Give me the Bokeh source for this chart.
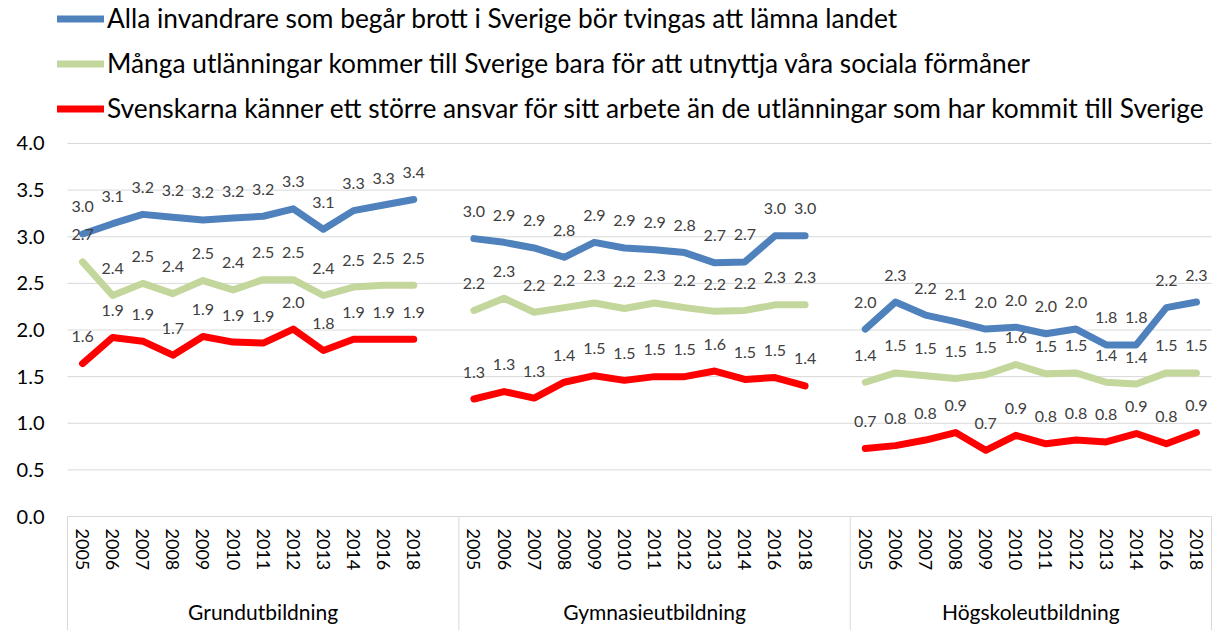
from bokeh.plotting import figure
from bokeh.models import (FactorRange, Range1d, Legend, LegendItem, FixedTicker,
                          PrintfTickFormatter, ColumnDataSource, CategoricalAxis)
from bokeh.embed import file_html
from bokeh.resources import INLINE
from bokeh.core.properties import value

FONT = "Lato"

groups = ["Grundutbildning", "Gymnasieutbildning", "Högskoleutbildning"]
years = ["2005", "2006", "2007", "2008", "2009", "2010", "2011", "2012",
         "2013", "2014", "2016", "2018"]
y_ticks = [0.0, 0.5, 1.0, 1.5, 2.0, 2.5, 3.0, 3.5, 4.0]

series_names = [
    "Alla invandrare som begår brott i Sverige bör tvingas att lämna landet",
    "Många utlänningar kommer till Sverige bara för att utnyttja våra sociala förmåner",
    "Svenskarna känner ett större ansvar för sitt arbete än de utlänningar som har kommit till Sverige",
]
series_colors = ["#4F81BD", "#C3D69B", "#FF0000"]

brott_grund = [3.03, 3.14, 3.24, 3.21, 3.18, 3.20, 3.22, 3.30, 3.08, 3.28, 3.34, 3.40]
brott_gymn = [2.98, 2.94, 2.88, 2.78, 2.94, 2.88, 2.86, 2.83, 2.72, 2.73, 3.01, 3.01]
brott_hogsk = [2.01, 2.30, 2.16, 2.09, 2.01, 2.03, 1.96, 2.01, 1.84, 1.84, 2.24, 2.30]

formaner_grund = [2.73, 2.37, 2.50, 2.39, 2.53, 2.43, 2.54, 2.54, 2.37, 2.46, 2.48, 2.48]
formaner_gymn = [2.21, 2.34, 2.19, 2.24, 2.29, 2.23, 2.29, 2.24, 2.20, 2.21, 2.27, 2.27]
formaner_hogsk = [1.44, 1.54, 1.51, 1.48, 1.52, 1.63, 1.53, 1.54, 1.44, 1.42, 1.54, 1.54]

ansvar_grund = [1.64, 1.92, 1.88, 1.73, 1.93, 1.87, 1.86, 2.01, 1.78, 1.90, 1.90, 1.90]
ansvar_gymn = [1.26, 1.34, 1.27, 1.44, 1.51, 1.46, 1.50, 1.50, 1.56, 1.47, 1.49, 1.40]
ansvar_hogsk = [0.73, 0.76, 0.82, 0.90, 0.71, 0.87, 0.78, 0.82, 0.80, 0.89, 0.78, 0.90]

series_values = [
    [brott_grund, brott_gymn, brott_hogsk],
    [formaner_grund, formaner_gymn, formaner_hogsk],
    [ansvar_grund, ansvar_gymn, ansvar_hogsk],
]

# one blank slot after the first two groups, like the Excel source
factors = []
for i, g in enumerate(groups):
    factors += [(g, y) for y in years]
    if i < len(groups) - 1:
        factors.append((g, ""))

n_slot = len(years) + 1
total_slots = len(factors)
box_lines = [i * n_slot for i in range(len(groups))] + [total_slots]

# layout constants: the frame covers legend, plot and category box
X_PAD = 0.332          # slots of padding on each side of the categories
Y_BOTTOM = -1.2225     # room for the category box below 0
Y_TOP = 5.5335         # room for the legend above 4.0

p = figure(width=1221, height=640,
           x_range=FactorRange(factors=factors, group_padding=0, factor_padding=0,
                               range_padding=X_PAD, range_padding_units="absolute"),
           y_range=Range1d(Y_BOTTOM, Y_TOP),
           output_backend="svg", toolbar_location=None,
           min_border_left=57, min_border_right=0,
           min_border_top=0, min_border_bottom=10)
p.outline_line_color = None
p.background_fill_color = "white"
p.border_fill_color = "white"
p.xgrid.grid_line_color = None
p.ygrid.grid_line_color = None

# horizontal gridlines over the category span only
p.segment(x0=[0] * len(y_ticks), y0=y_ticks, x1=[total_slots] * len(y_ticks),
          y1=y_ticks, line_color="#D9D9D9", line_width=1)
# category box lines (left edge, group separators, right edge)
p.segment(x0=box_lines, y0=[0] * len(box_lines), x1=box_lines,
          y1=[Y_BOTTOM] * len(box_lines), line_color="#D9D9D9", line_width=1)

ya = p.yaxis[0]
ya.ticker = FixedTicker(ticks=y_ticks)
ya.formatter = PrintfTickFormatter(format="%.1f")
ya.axis_line_color = None
ya.major_tick_line_color = None
ya.minor_tick_line_color = None
ya.major_tick_out = 0
ya.major_tick_in = 0
ya.major_label_standoff = 13
ya.major_label_text_font = FONT
ya.major_label_text_font_size = "20px"
ya.major_label_text_color = "#000000"


def style_cat_axis(ax, standoff):
    ax.fixed_location = 0
    ax.axis_line_color = None
    ax.major_tick_line_color = None
    ax.major_tick_out = 0
    ax.major_tick_in = 0
    ax.major_label_orientation = "vertical"
    ax.major_label_standoff = standoff
    ax.major_label_text_font = FONT
    ax.major_label_text_font_size = "18px"
    ax.group_text_font = FONT
    ax.group_text_font_size = "21px"
    ax.group_text_font_style = "normal"
    ax.separator_line_color = None


# year labels
xa = p.xaxis[0]
style_cat_axis(xa, 12)
xa.major_label_text_color = "#000000"
xa.group_text_color = None

# group labels (a second view of the same category axis, set lower)
ga = CategoricalAxis()
style_cat_axis(ga, 82)
ga.major_label_text_color = None
ga.group_text_color = "#000000"
p.add_layout(ga, "below")

first_renderers = []
for name, color, per_group in zip(series_names, series_colors, series_values):
    for gi, (g, vals) in enumerate(zip(groups, per_group)):
        src = ColumnDataSource(data=dict(
            x=[(g, y) for y in years],
            y=vals,
            lab=[f"{v:.1f}" for v in vals],
        ))
        r = p.line("x", "y", source=src, line_color=color, line_width=7,
                   line_cap="round", line_join="round")
        if gi == 0:
            first_renderers.append(r)
        p.text("x", "y", text="lab", source=src, y_offset=-27,
               text_align="center", text_baseline="middle",
               text_font=value(FONT), text_font_size="16px", text_color="#404040")

legend = Legend(
    items=[LegendItem(label=nm, renderers=[r]) for nm, r in zip(series_names, first_renderers)],
    location=(0, 506), orientation="vertical",
    glyph_width=47, glyph_height=31, label_height=31, label_standoff=3,
    spacing=13, padding=0, margin=0,
    border_line_color=None, background_fill_alpha=0,
    label_text_font=FONT, label_text_font_size="26.3px", label_text_color="#000000",
)
p.add_layout(legend)

open("out.html", "w").write(file_html(p, INLINE))
